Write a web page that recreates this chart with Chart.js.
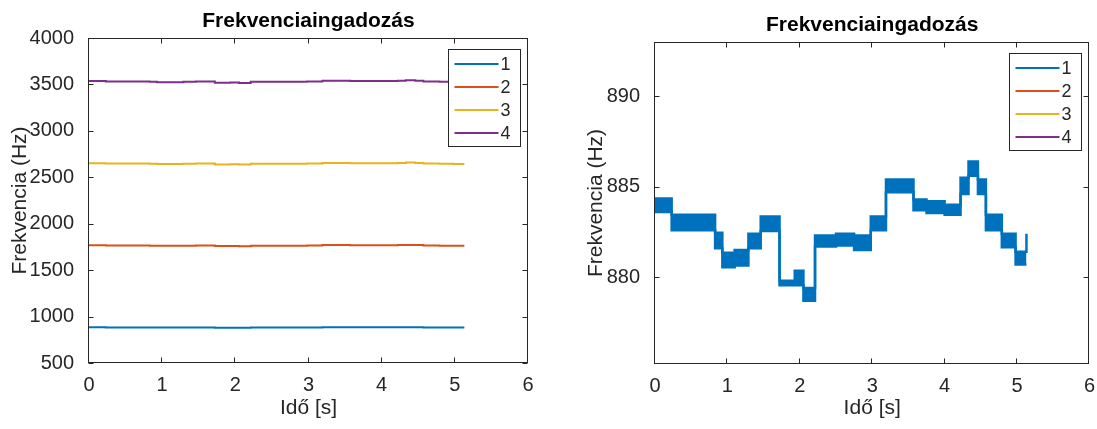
<!DOCTYPE html>
<html>
<head>
<meta charset="utf-8">
<title>Frekvenciaingadozás</title>
<script src="https://cdn.jsdelivr.net/npm/chart.js@4.4.1/dist/chart.umd.min.js"></script>
<style>
  body { margin: 0; background: #fff; }
  #wrap { position: relative; width: 1097px; height: 429px; overflow: hidden; }
  canvas { position: absolute; top: 0; }
  #left { left: 0; }
  #right { left: 560px; }
</style>
</head>
<body>
<div id="wrap">
  <canvas id="left" width="560" height="429"></canvas>
  <canvas id="right" width="537" height="429"></canvas>
</div>
<script>
const seriesLabels = ['1', '2', '3', '4'];
const seriesColors = ['#0072bd', '#d95319', '#edb120', '#7e2f8e'];

// left panel: segment start times (s), last entry = end of recording
const segTime = [0, 0.23, 0.83, 0.93, 1.29, 1.46, 1.72, 1.93, 2.05, 2.21, 2.98, 3.19, 3.57, 4.22, 4.33, 4.46, 4.57, 4.79, 4.98, 5.13];
const harm1 = [884, 883, 882, 881, 882, 883, 879.7, 880, 879, 882, 883, 885, 883.9, 885, 886, 885, 883, 882, 881, 881];
const harm2 = [1768, 1766, 1764, 1762, 1764, 1766, 1759, 1760, 1758, 1764, 1766, 1770, 1768, 1770, 1772, 1770, 1766, 1764, 1762, 1762];
const harm3 = [2652, 2649, 2646, 2643, 2646, 2649, 2639, 2640, 2637, 2646, 2649, 2655, 2652, 2655, 2658, 2655, 2649, 2646, 2643, 2643];
const harm4 = [3536, 3532, 3528, 3524, 3528, 3532, 3519, 3520, 3516, 3528, 3532, 3540, 3536, 3540, 3544, 3540, 3532, 3528, 3524, 3524];

// right panel: fundamental, upper/lower edge of the fast ripple per segment
const bandTime = [0, 0.23, 0.83, 0.93, 1.1, 1.29, 1.46, 1.72, 1.93, 2.05, 2.21, 2.5, 2.75, 2.98, 3.19, 3.57, 3.75, 4.0, 4.22, 4.33, 4.46, 4.57, 4.79, 4.98, 5.13];
const bandHigh = [884.35, 883.45, 882.45, 881.35, 881.5, 882.4, 883.35, 879.8, 880.35, 879.4, 882.3, 882.4, 882.3, 883.35, 885.4, 884.3, 884.2, 884.0, 885.5, 886.4, 885.4, 883.45, 882.4, 881.4, 882.4];
const bandLow = [883.6, 882.6, 881.6, 880.55, 880.65, 881.6, 882.55, 879.55, 879.55, 878.7, 881.7, 881.75, 881.5, 882.6, 884.7, 883.7, 883.55, 883.45, 884.6, 885.6, 884.6, 882.6, 881.65, 880.7, 880.7];

const xTicks = [0, 1, 2, 3, 4, 5, 6];
const yTicksAll = [500, 1000, 1500, 2000, 2500, 3000, 3500, 4000];
const yTicksZoom = [880, 885, 890];

const AXIS = '#262626';
Chart.defaults.font.family = '"Liberation Sans", Arial, sans-serif';
Chart.defaults.color = AXIS;

const pts = (xs, ys) => xs.map((x, i) => ({ x: x, y: ys[i] }));

// box around the axes with inward ticks on all four sides
const frame = {
  id: 'frame',
  afterDatasetsDraw(chart) {
    const { ctx, chartArea: a, scales: { x, y } } = chart;
    const L = Math.round(a.left) - 0.5, R = Math.round(a.right) - 0.5;
    const T = Math.round(a.top) + 0.5, B = Math.round(a.bottom) - 0.5;
    ctx.save();
    ctx.strokeStyle = AXIS;
    ctx.lineWidth = 1;
    ctx.strokeRect(L, T, R - L, B - T);
    ctx.beginPath();
    x.ticks.forEach(t => {
      const px = Math.round(x.getPixelForValue(t.value)) - 0.5;
      ctx.moveTo(px, B); ctx.lineTo(px, B - 5);
      ctx.moveTo(px, T); ctx.lineTo(px, T + 5);
    });
    y.ticks.forEach(t => {
      const py = Math.round(y.getPixelForValue(t.value)) + 0.5;
      ctx.moveTo(L, py); ctx.lineTo(L + 5, py);
      ctx.moveTo(R, py); ctx.lineTo(R - 5, py);
    });
    ctx.stroke();
    ctx.restore();
  }
};

// title centred over the axes
const heading = {
  id: 'heading',
  afterDraw(chart, args, opts) {
    const { ctx, chartArea: a } = chart;
    ctx.save();
    ctx.font = 'bold 21px "Liberation Sans", Arial, sans-serif';
    ctx.fillStyle = '#000';
    ctx.textAlign = 'center';
    ctx.textBaseline = 'alphabetic';
    ctx.fillText(opts.text, (a.left + a.right) / 2, a.top - 11);
    ctx.restore();
  }
};

// boxed legend in the upper right corner
const legendBox = {
  id: 'legendBox',
  afterDraw(chart) {
    const { ctx, chartArea: a } = chart;
    const w = 72, h = 97;
    const bx = Math.round(a.right - 8 - w) + 0.5, by = Math.round(a.top + 11) + 0.5;
    ctx.save();
    ctx.fillStyle = '#fff';
    ctx.fillRect(bx, by, w, h);
    ctx.strokeStyle = AXIS;
    ctx.lineWidth = 1;
    ctx.strokeRect(bx, by, w, h);
    ctx.font = '18px "Liberation Sans", Arial, sans-serif';
    ctx.textBaseline = 'middle';
    ctx.textAlign = 'left';
    seriesLabels.forEach((lab, i) => {
      const cy = by + 14.5 + i * 23;
      ctx.strokeStyle = seriesColors[i];
      ctx.lineWidth = 2;
      ctx.beginPath();
      ctx.moveTo(bx + 6, cy);
      ctx.lineTo(bx + 50, cy);
      ctx.stroke();
      ctx.fillStyle = AXIS;
      ctx.fillText(lab, bx + 52, cy + 1);
    });
    ctx.restore();
  }
};

function scales(yMin, yMax, yTicks, yWidth, yTitlePad, xHeight) {
  const tickFont = { size: 20 };
  const titleFont = { size: 21 };
  return {
    x: {
      type: 'linear', min: 0, max: 6,
      afterBuildTicks: s => { s.ticks = xTicks.map(v => ({ value: v })); },
      afterFit: s => { s.height = xHeight; },
      grid: { display: false },
      border: { display: false },
      ticks: { font: tickFont, color: AXIS, padding: 2, maxRotation: 0, autoSkip: false, callback: v => String(v) },
      title: { display: true, text: 'Idő [s]', font: titleFont, color: AXIS, padding: { top: 0, bottom: 8 } }
    },
    y: {
      type: 'linear', min: yMin, max: yMax,
      afterBuildTicks: s => { s.ticks = yTicks.map(v => ({ value: v })); },
      afterFit: s => { s.width = yWidth; },
      grid: { display: false },
      border: { display: false },
      ticks: { font: tickFont, color: AXIS, padding: 7, autoSkip: false, callback: v => String(v) },
      title: { display: true, text: 'Frekvencia (Hz)', font: titleFont, color: AXIS, padding: { top: yTitlePad, bottom: 0 } }
    }
  };
}

const common = {
  responsive: false,
  animation: false,
  devicePixelRatio: 1,
  events: [],
  elements: { point: { radius: 0 } }
};

// all four harmonics on the full frequency range
new Chart(document.getElementById('left'), {
  type: 'line',
  data: {
    datasets: [harm1, harm2, harm3, harm4].map((h, i) => ({
      label: seriesLabels[i],
      data: pts(segTime, h),
      borderColor: seriesColors[i],
      borderWidth: 2,
      stepped: 'before',
      fill: false
    }))
  },
  options: Object.assign({}, common, {
    layout: { padding: { left: 0, right: 32, top: 38, bottom: 0 } },
    scales: scales(500, 4000, yTicksAll, 89, 8, 66),
    plugins: { legend: { display: false }, tooltip: { enabled: false }, heading: { text: 'Frekvenciaingadozás' } }
  }),
  plugins: [frame, legendBox, heading]
});

// fundamental only, zoomed in
new Chart(document.getElementById('right'), {
  type: 'line',
  data: {
    datasets: [
      { label: '1', data: pts(bandTime, bandHigh), borderColor: seriesColors[0], backgroundColor: seriesColors[0],
        borderWidth: 2.5, stepped: 'before', fill: '+1' },
      { label: '1 low', data: pts(bandTime, bandLow), borderColor: seriesColors[0],
        borderWidth: 2.5, stepped: 'before', fill: false }
    ]
  },
  options: Object.assign({}, common, {
    layout: { padding: { left: 0, right: 7, top: 42, bottom: 0 } },
    scales: scales(875.2, 893, yTicksZoom, 95, 24, 65),
    plugins: { legend: { display: false }, tooltip: { enabled: false }, heading: { text: 'Frekvenciaingadozás' } }
  }),
  plugins: [frame, legendBox, heading]
});
</script>
</body>
</html>
